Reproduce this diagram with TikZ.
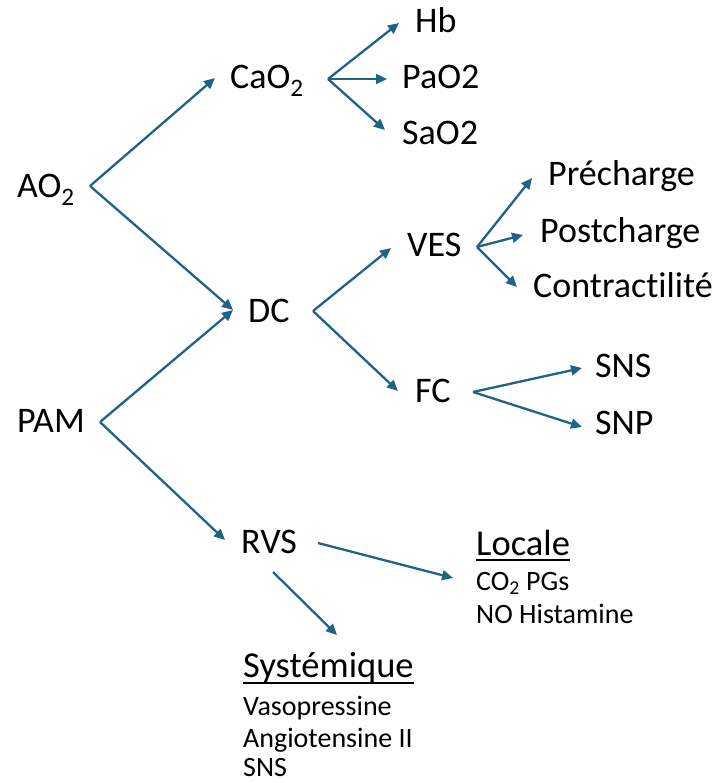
\documentclass[tikz,border=0pt]{standalone}
\usepackage{fontspec}
\setmainfont[Ligatures={NoCommon,NoContextual}]{Carlito}
\usepackage{xcolor}
\usetikzlibrary{arrows.meta,calc}
\definecolor{pfeilblau}{RGB}{31,100,135}
\begin{document}
\begin{tikzpicture}[x=1pt,y=-1pt,
  gross/.style={anchor=base west,inner sep=0pt,font=\fontsize{36}{36}\selectfont},
  titel/.style={anchor=base west,inner sep=0pt,font=\fontsize{36.5}{36}\selectfont},
  klein/.style={anchor=base west,inner sep=0pt,font=\fontsize{28}{28}\selectfont},
  strich/.style={line width=1.8pt,black},
  pfeil/.style={-{Triangle[length=11pt,width=10pt]},line width=2.3pt,pfeilblau}]
\useasboundingbox (0,0) rectangle (717,783);
\node [gross] (AO2) at (17,198){AO\textsubscript{2}};
\node [gross] (PAM) at (17,432){PAM};
\node [gross] (CaO2) at (230,89){CaO\textsubscript{2}};
\node [gross] (Hb) at (415,33){Hb};
\node [gross] (PaO2) at (402,89){PaO2};
\node [gross] (SaO2) at (402,145){SaO2};
\node [gross] (DC) at (248,322){DC};
\node [gross] (VES) at (407,257){VES};
\node [gross] (Pre) at (548,186){Précharge};
\node [gross] (Post) at (540,243){Postcharge};
\node [gross] (Contr) at (533,297){Contrac\kern0pt tili\kern0pt té};
\node [gross] (FC) at (415,402){FC};
\node [gross] (SNS) at (595,377){SNS};
\node [gross] (SNP) at (595,434){SNP};
\node [gross] (RVS) at (241,553){RVS};
\node [titel] (Loc) at (476,555){Locale};
\node [klein] (Loc1) at (476,590){CO\textsubscript{2} PGs};
\node [klein] (Loc2) at (476,623){NO Histamine};
\node [titel] (Sys) at (243,677){Systémique};
\node [klein] (Sys1) at (243,715){Vasopressine};
\node [klein] (Sys2) at (243,747){Angiotensine II};
\node [klein] (Sys3) at (243,776){SNS};
% soulignement
\draw [strich] ($(Loc.base west)+(0,5)$) -- ($(Loc.base east)+(0,5)$);
\draw [strich] ($(Sys.base west)+(0,6)$) -- ($(Sys.base east)+(0,6)$);
\draw [pfeil] ($(AO2.base west)+(73,-12)$) -- ($(CaO2.base west)+(-15,-11)$);
\draw [pfeil] ($(AO2.base west)+(73,-12)$) -- ($(DC.base west)+(-15,-12)$);
\draw [pfeil] ($(PAM.base west)+(83,-10)$) -- ($(DC.base west)+(-15,-12)$);
\draw [pfeil] ($(PAM.base west)+(83,-10)$) -- ($(RVS.base west)+(-16,-13)$);
\draw [pfeil] ($(CaO2.base west)+(98,-10)$) -- ($(Hb.base west)+(-16,-10)$);
\draw [pfeil] ($(CaO2.base west)+(98,-10)$) -- ($(PaO2.base west)+(-15,-10)$);
\draw [pfeil] ($(CaO2.base west)+(98,-10)$) -- ($(SaO2.base west)+(-17,-15)$);
\draw [pfeil] ($(DC.base west)+(65,-11)$) -- ($(VES.base west)+(-16,-9)$);
\draw [pfeil] ($(DC.base west)+(65,-11)$) -- ($(FC.base west)+(-17,-11)$);
\draw [pfeil] ($(VES.base west)+(70,-10)$) -- ($(Pre.base west)+(-16,-8)$);
\draw [pfeil] ($(VES.base west)+(70,-10)$) -- ($(Post.base west)+(-17,-8)$);
\draw [pfeil] ($(VES.base west)+(70,-10)$) -- ($(Contr.base west)+(-16,-10)$);
\draw [pfeil] ($(FC.base west)+(58,-10)$) -- ($(SNS.base west)+(-13,-9)$);
\draw [pfeil] ($(FC.base west)+(58,-10)$) -- ($(SNP.base west)+(-13,-7)$);
\draw [pfeil] ($(RVS.base west)+(77,-10)$) -- ($(Loc.base west)+(-23,23)$);
\draw [pfeil] ($(RVS.base west)+(32,19)$) -- ($(Sys.base west)+(94,-42)$);
\end{tikzpicture}
\end{document}
